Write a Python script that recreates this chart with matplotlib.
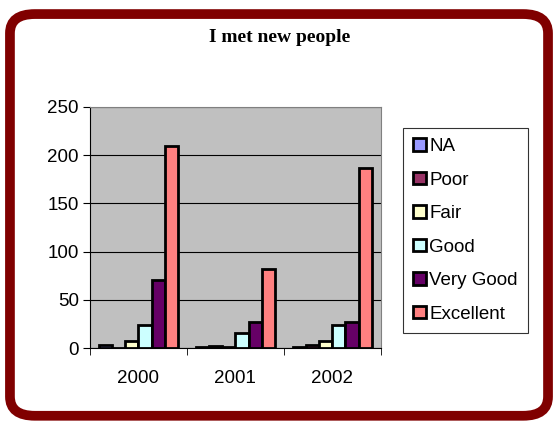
import matplotlib.pyplot as plt
import matplotlib.patches as mpatches
import numpy as np

plt.rcParams['font.family'] = ['Liberation Sans', 'DejaVu Sans']

years = ["2000", "2001", "2002"]
series = ["NA", "Poor", "Fair", "Good", "Very Good", "Excellent"]
na_vals        = [3, 1, 1]
poor_vals      = [0, 2, 3]
fair_vals      = [7, 1, 7]
good_vals      = [24, 16, 24]
very_good_vals = [71, 27, 27]
excellent_vals = [210, 82, 187]
colors = ["#9999FF", "#993366", "#FFFFCC", "#CCFFFF", "#660066", "#FF8080"]

values = [na_vals, poor_vals, fair_vals, good_vals, very_good_vals, excellent_vals]

fig = plt.figure(figsize=(5.53, 4.26), dpi=100)
fig.patch.set_facecolor("white")

# rounded dark red frame
frame = mpatches.FancyBboxPatch(
    (0.018 + 0.04, 0.012 + 0.052), 0.973 - 0.08, 0.967 - 0.104,
    boxstyle="round,pad=0.04,rounding_size=0.045",
    transform=fig.transFigure, facecolor="white", edgecolor="#800000",
    linewidth=7, zorder=-10)
fig.patches.append(frame)

ax = fig.add_axes([0.1627, 0.183, 0.526, 0.566])
ax.set_facecolor("#C0C0C0")

x = np.arange(len(years))
w = 0.135
for i, (name, vals, c) in enumerate(zip(series, values, colors)):
    offs = (i - 2.5) * w
    ax.bar(x + offs, vals, width=w, color=c, edgecolor="black",
           linewidth=2, label=name, zorder=3)

ax.set_xlim(-0.5, 2.5)
ax.set_ylim(0, 250)
ax.set_yticks(range(0, 251, 50))
ax.yaxis.grid(True, color="black", linewidth=0.8, zorder=1)
ax.set_axisbelow(True)

ax.set_xticks(x)
ax.set_xticklabels(years)
ax.set_xticks([-0.5, 0.5, 1.5, 2.5], minor=True)
ax.tick_params(axis="x", which="major", length=0, pad=16, labelsize=13.5)
ax.tick_params(axis="x", which="minor", length=5, color="black")
ax.tick_params(axis="y", length=5, pad=3, labelsize=13.5)

for s in ["top", "right"]:
    ax.spines[s].set_color("#808080")
for s in ["left", "bottom"]:
    ax.spines[s].set_color("black")

fig.text(0.506, 0.911, "I met new people", ha="center", va="center",
         fontsize=14, fontweight="bold", family="Liberation Serif")

handles, labels = ax.get_legend_handles_labels()
leg = fig.legend(handles, labels, loc="upper left",
                 bbox_to_anchor=(0.729, 0.6995), fontsize=13.5,
                 frameon=True, fancybox=False, edgecolor="black",
                 handlelength=0.65, handleheight=0.65, handletextpad=0.2,
                 labelspacing=0.88, borderpad=0.55, borderaxespad=0)
leg.get_frame().set_linewidth(0.8)

plt.savefig("out.png", dpi=100)
